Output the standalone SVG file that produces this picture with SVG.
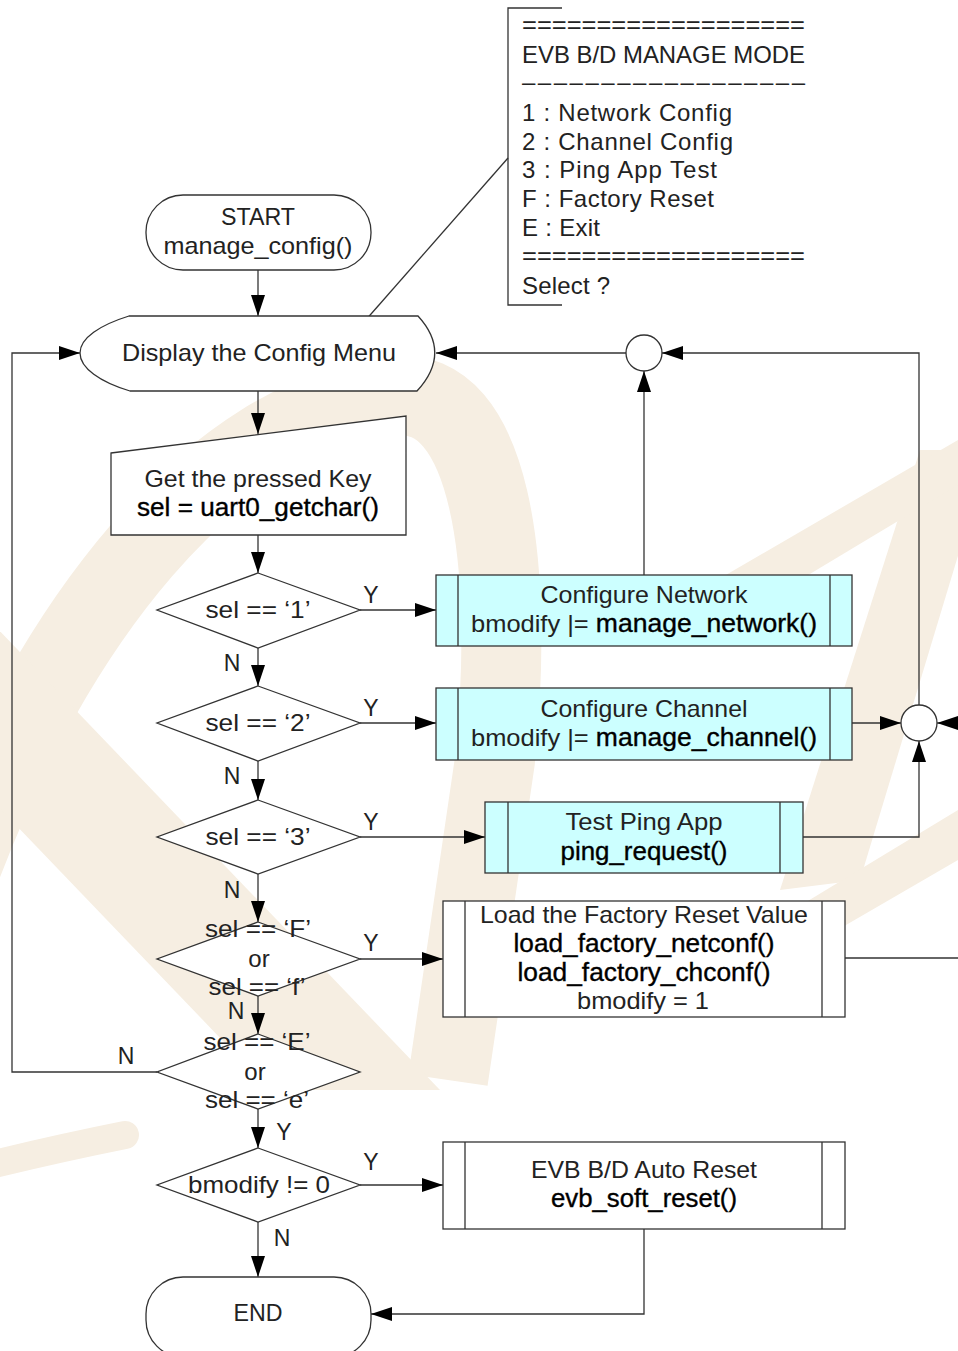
<svg xmlns="http://www.w3.org/2000/svg" width="958" height="1351" viewBox="0 0 958 1351">
<defs>
<marker id="ah" markerUnits="userSpaceOnUse" markerWidth="22" markerHeight="16" refX="21" refY="7" orient="auto">
<path d="M0,0 L21,7 L0,14 Z" fill="#000"/>
</marker>
<style>
.ln{fill:none;stroke:#333;stroke-width:1.3}
.arr{fill:none;stroke:#333;stroke-width:1.3;marker-end:url(#ah)}
.nd{fill:#fff;stroke:#333;stroke-width:1.3}
.cy{fill:#ccffff;stroke:#333;stroke-width:1.3}
.t{font-family:"Liberation Sans",Arial,sans-serif;font-size:24px;fill:#222;text-anchor:middle}
.c{font-family:"Liberation Sans",Arial,sans-serif;font-size:25px;fill:#000;stroke:#000;stroke-width:0.35;text-anchor:middle}
.k{fill:#000;stroke:#000;stroke-width:0.35;font-size:25px}
.m{font-family:"Liberation Sans",Arial,sans-serif;font-size:24px;fill:#222}
.lb{font-family:"Liberation Sans",Arial,sans-serif;font-size:23px;fill:#222;text-anchor:middle}
.wm{fill:#f6eee2}
.wms{fill:none;stroke:#f6eee2}
</style>
</defs>
<rect width="958" height="1351" fill="#fff"/>
<g id="watermark">
<path class="wms" stroke-width="80" d="M -40,870 C 50,630 210,415 395,396 C 490,386 515,560 495,760 L 448,1080"/>
<polygon class="wm" points="-200,600 -30,600 440,1090 270,1090"/>
<path class="wms" stroke-width="28" stroke-linecap="round" d="M -10,1165 Q 60,1148 125,1135"/>
<polygon class="wm" points="920,450 990,450 860,880 780,890"/>
<polygon class="wm" points="700,590 958,440 958,485 700,640"/>
<polygon class="wm" points="760,930 958,810 958,860 760,975"/>
</g>
<g id="connectors">
<path class="arr" d="M258,270 V316"/>
<path class="arr" d="M258,391 V434"/>
<path class="arr" d="M258,535 V573"/>
<path class="arr" d="M258,648 V686"/>
<path class="arr" d="M258,761 V800"/>
<path class="arr" d="M258,874 V922"/>
<path class="arr" d="M258,996 V1034"/>
<path class="arr" d="M258,1109 V1148"/>
<path class="arr" d="M258,1222 V1277"/>
<path class="arr" d="M360,610 H436"/>
<path class="arr" d="M360,723 H436"/>
<path class="arr" d="M360,837 H485"/>
<path class="arr" d="M360,959 H443"/>
<path class="arr" d="M360,1185 H443"/>
<path class="arr" d="M157,1072 H12 V353 H80"/>
<path class="arr" d="M644,575 V371"/>
<path class="arr" d="M626,353 H436"/>
<path class="arr" d="M919,705 V353 H662"/>
<path class="arr" d="M852,723 H901"/>
<path class="arr" d="M803,837 H919 V741"/>
<path class="ln" d="M845,958 H958"/>
<path class="arr" d="M960,723 H937"/>
<path class="arr" d="M644,1229 V1314 H371"/>
<path class="ln" stroke-width="1" d="M508,158 L357,330"/>
</g>
<g id="menu">
<path class="ln" d="M562,8 H508 V305 H562"/>
<text class="m" x="522" y="33" textLength="283" lengthAdjust="spacingAndGlyphs">===================</text>
<text class="m" x="522" y="63" textLength="283" lengthAdjust="spacingAndGlyphs">EVB B/D MANAGE MODE</text>
<text class="m" x="522" y="90" textLength="283" lengthAdjust="spacing">––––––––––––––––––</text>
<text class="m" x="522" y="121" textLength="210" lengthAdjust="spacing">1 : Network Config</text>
<text class="m" x="522" y="150" textLength="211" lengthAdjust="spacing">2 : Channel Config</text>
<text class="m" x="522" y="178" textLength="195" lengthAdjust="spacing">3 : Ping App Test</text>
<text class="m" x="522" y="207" textLength="192" lengthAdjust="spacing">F : Factory Reset</text>
<text class="m" x="522" y="236" textLength="78" lengthAdjust="spacing">E : Exit</text>
<text class="m" x="522" y="264" textLength="283" lengthAdjust="spacingAndGlyphs">===================</text>
<text class="m" x="522" y="294" textLength="88" lengthAdjust="spacing">Select ?</text>
</g>
<g id="start">
<rect class="nd" x="146" y="195" width="225" height="75" rx="37"/>
<text class="t" x="258" y="225" textLength="74" lengthAdjust="spacingAndGlyphs">START</text>
<text class="t" x="258" y="254" textLength="189" lengthAdjust="spacingAndGlyphs">manage_config()</text>
</g>
<g id="display">
<path class="nd" d="M129,316 L418,316 Q452,353 417,391 L130,391 C100,382 80,368 80,353 C80,338 100,325 129,316 Z"/>
<text class="t" x="259" y="361" textLength="274" lengthAdjust="spacingAndGlyphs">Display the Config Menu</text>
</g>
<g id="getkey">
<path class="nd" d="M111,453 L406,416 L406,535 L111,535 Z"/>
<text class="t" x="258" y="487" textLength="227" lengthAdjust="spacingAndGlyphs">Get the pressed Key</text>
<text class="c" x="258" y="516" textLength="242" lengthAdjust="spacingAndGlyphs">sel = uart0_getchar()</text>
</g>
<g id="d1">
<path class="nd" d="M258,573 L360,610 L258,648 L157,610 Z"/>
<text class="t" x="258" y="618" textLength="105" lengthAdjust="spacingAndGlyphs">sel == ‘1’</text>
<text class="lb" x="371" y="603">Y</text>
<text class="lb" x="232" y="671">N</text>
</g>
<g id="network">
<rect class="cy" x="436" y="575" width="416" height="71"/>
<path class="ln" d="M458,575 V646 M830,575 V646"/>
<text class="t" x="644" y="603" textLength="207" lengthAdjust="spacingAndGlyphs">Configure Network</text>
<text class="t" x="644" y="632" textLength="346" lengthAdjust="spacingAndGlyphs">bmodify  |= <tspan class="k">manage_network()</tspan></text>
</g>
<g id="merge1">
<circle class="nd" cx="644" cy="353" r="18"/>
</g>
<g id="d2">
<path class="nd" d="M258,686 L360,723 L258,761 L157,723 Z"/>
<text class="t" x="258" y="731" textLength="105" lengthAdjust="spacingAndGlyphs">sel == ‘2’</text>
<text class="lb" x="371" y="716">Y</text>
<text class="lb" x="232" y="784">N</text>
</g>
<g id="channel">
<rect class="cy" x="436" y="688" width="416" height="72"/>
<path class="ln" d="M458,688 V760 M830,688 V760"/>
<text class="t" x="644" y="717" textLength="207" lengthAdjust="spacingAndGlyphs">Configure Channel</text>
<text class="t" x="644" y="746" textLength="346" lengthAdjust="spacingAndGlyphs">bmodify  |= <tspan class="k">manage_channel()</tspan></text>
</g>
<g id="merge2">
<circle class="nd" cx="919" cy="723" r="18"/>
</g>
<g id="d3">
<path class="nd" d="M258,800 L360,837 L258,874 L157,837 Z"/>
<text class="t" x="258" y="845" textLength="105" lengthAdjust="spacingAndGlyphs">sel == ‘3’</text>
<text class="lb" x="371" y="830">Y</text>
<text class="lb" x="232" y="898">N</text>
</g>
<g id="ping">
<rect class="cy" x="485" y="802" width="318" height="71"/>
<path class="ln" d="M508,802 V873 M780,802 V873"/>
<text class="t" x="644" y="830" textLength="157" lengthAdjust="spacingAndGlyphs">Test Ping App</text>
<text class="c" x="644" y="860" textLength="167" lengthAdjust="spacingAndGlyphs">ping_request()</text>
</g>
<g id="d4">
<path class="nd" d="M258,922 L360,959 L258,996 L157,959 Z"/>
<text class="t" x="258" y="937" textLength="106" lengthAdjust="spacingAndGlyphs">sel == ‘F’</text>
<text class="t" x="259" y="967">or</text>
<text class="t" x="257" y="995" textLength="97" lengthAdjust="spacingAndGlyphs">sel == ‘f’</text>
<text class="lb" x="371" y="951">Y</text>
<text class="lb" x="236" y="1019">N</text>
</g>
<g id="factory">
<rect class="nd" x="443" y="901" width="402" height="116"/>
<path class="ln" d="M465,901 V1017 M822,901 V1017"/>
<text class="t" x="644" y="923" textLength="328" lengthAdjust="spacingAndGlyphs">Load the Factory Reset Value</text>
<text class="c" x="644" y="952" textLength="261" lengthAdjust="spacingAndGlyphs">load_factory_netconf()</text>
<text class="c" x="644" y="981" textLength="253" lengthAdjust="spacingAndGlyphs">load_factory_chconf()</text>
<text class="t" x="643" y="1009" textLength="132" lengthAdjust="spacingAndGlyphs">bmodify = 1</text>
</g>
<g id="d5">
<path class="nd" d="M258,1034 L360,1072 L258,1109 L157,1072 Z"/>
<text class="t" x="257" y="1050" textLength="107" lengthAdjust="spacingAndGlyphs">sel == ‘E’</text>
<text class="t" x="255" y="1080">or</text>
<text class="t" x="257" y="1108" textLength="104" lengthAdjust="spacingAndGlyphs">sel == ‘e’</text>
<text class="lb" x="126" y="1064">N</text>
<text class="lb" x="284" y="1140">Y</text>
</g>
<g id="d6">
<path class="nd" d="M258,1148 L360,1185 L258,1222 L157,1185 Z"/>
<text class="t" x="259" y="1193" textLength="142" lengthAdjust="spacingAndGlyphs">bmodify != 0</text>
<text class="lb" x="371" y="1170">Y</text>
<text class="lb" x="282" y="1246">N</text>
</g>
<g id="autoreset">
<rect class="nd" x="443" y="1142" width="402" height="87"/>
<path class="ln" d="M465,1142 V1229 M822,1142 V1229"/>
<text class="t" x="644" y="1178" textLength="226" lengthAdjust="spacingAndGlyphs">EVB B/D Auto Reset</text>
<text class="c" x="644" y="1207" textLength="186" lengthAdjust="spacingAndGlyphs">evb_soft_reset()</text>
</g>
<g id="end">
<rect class="nd" x="146" y="1277" width="225" height="80" rx="37"/>
<text class="t" x="258" y="1321" textLength="49" lengthAdjust="spacingAndGlyphs">END</text>
</g>
</svg>
